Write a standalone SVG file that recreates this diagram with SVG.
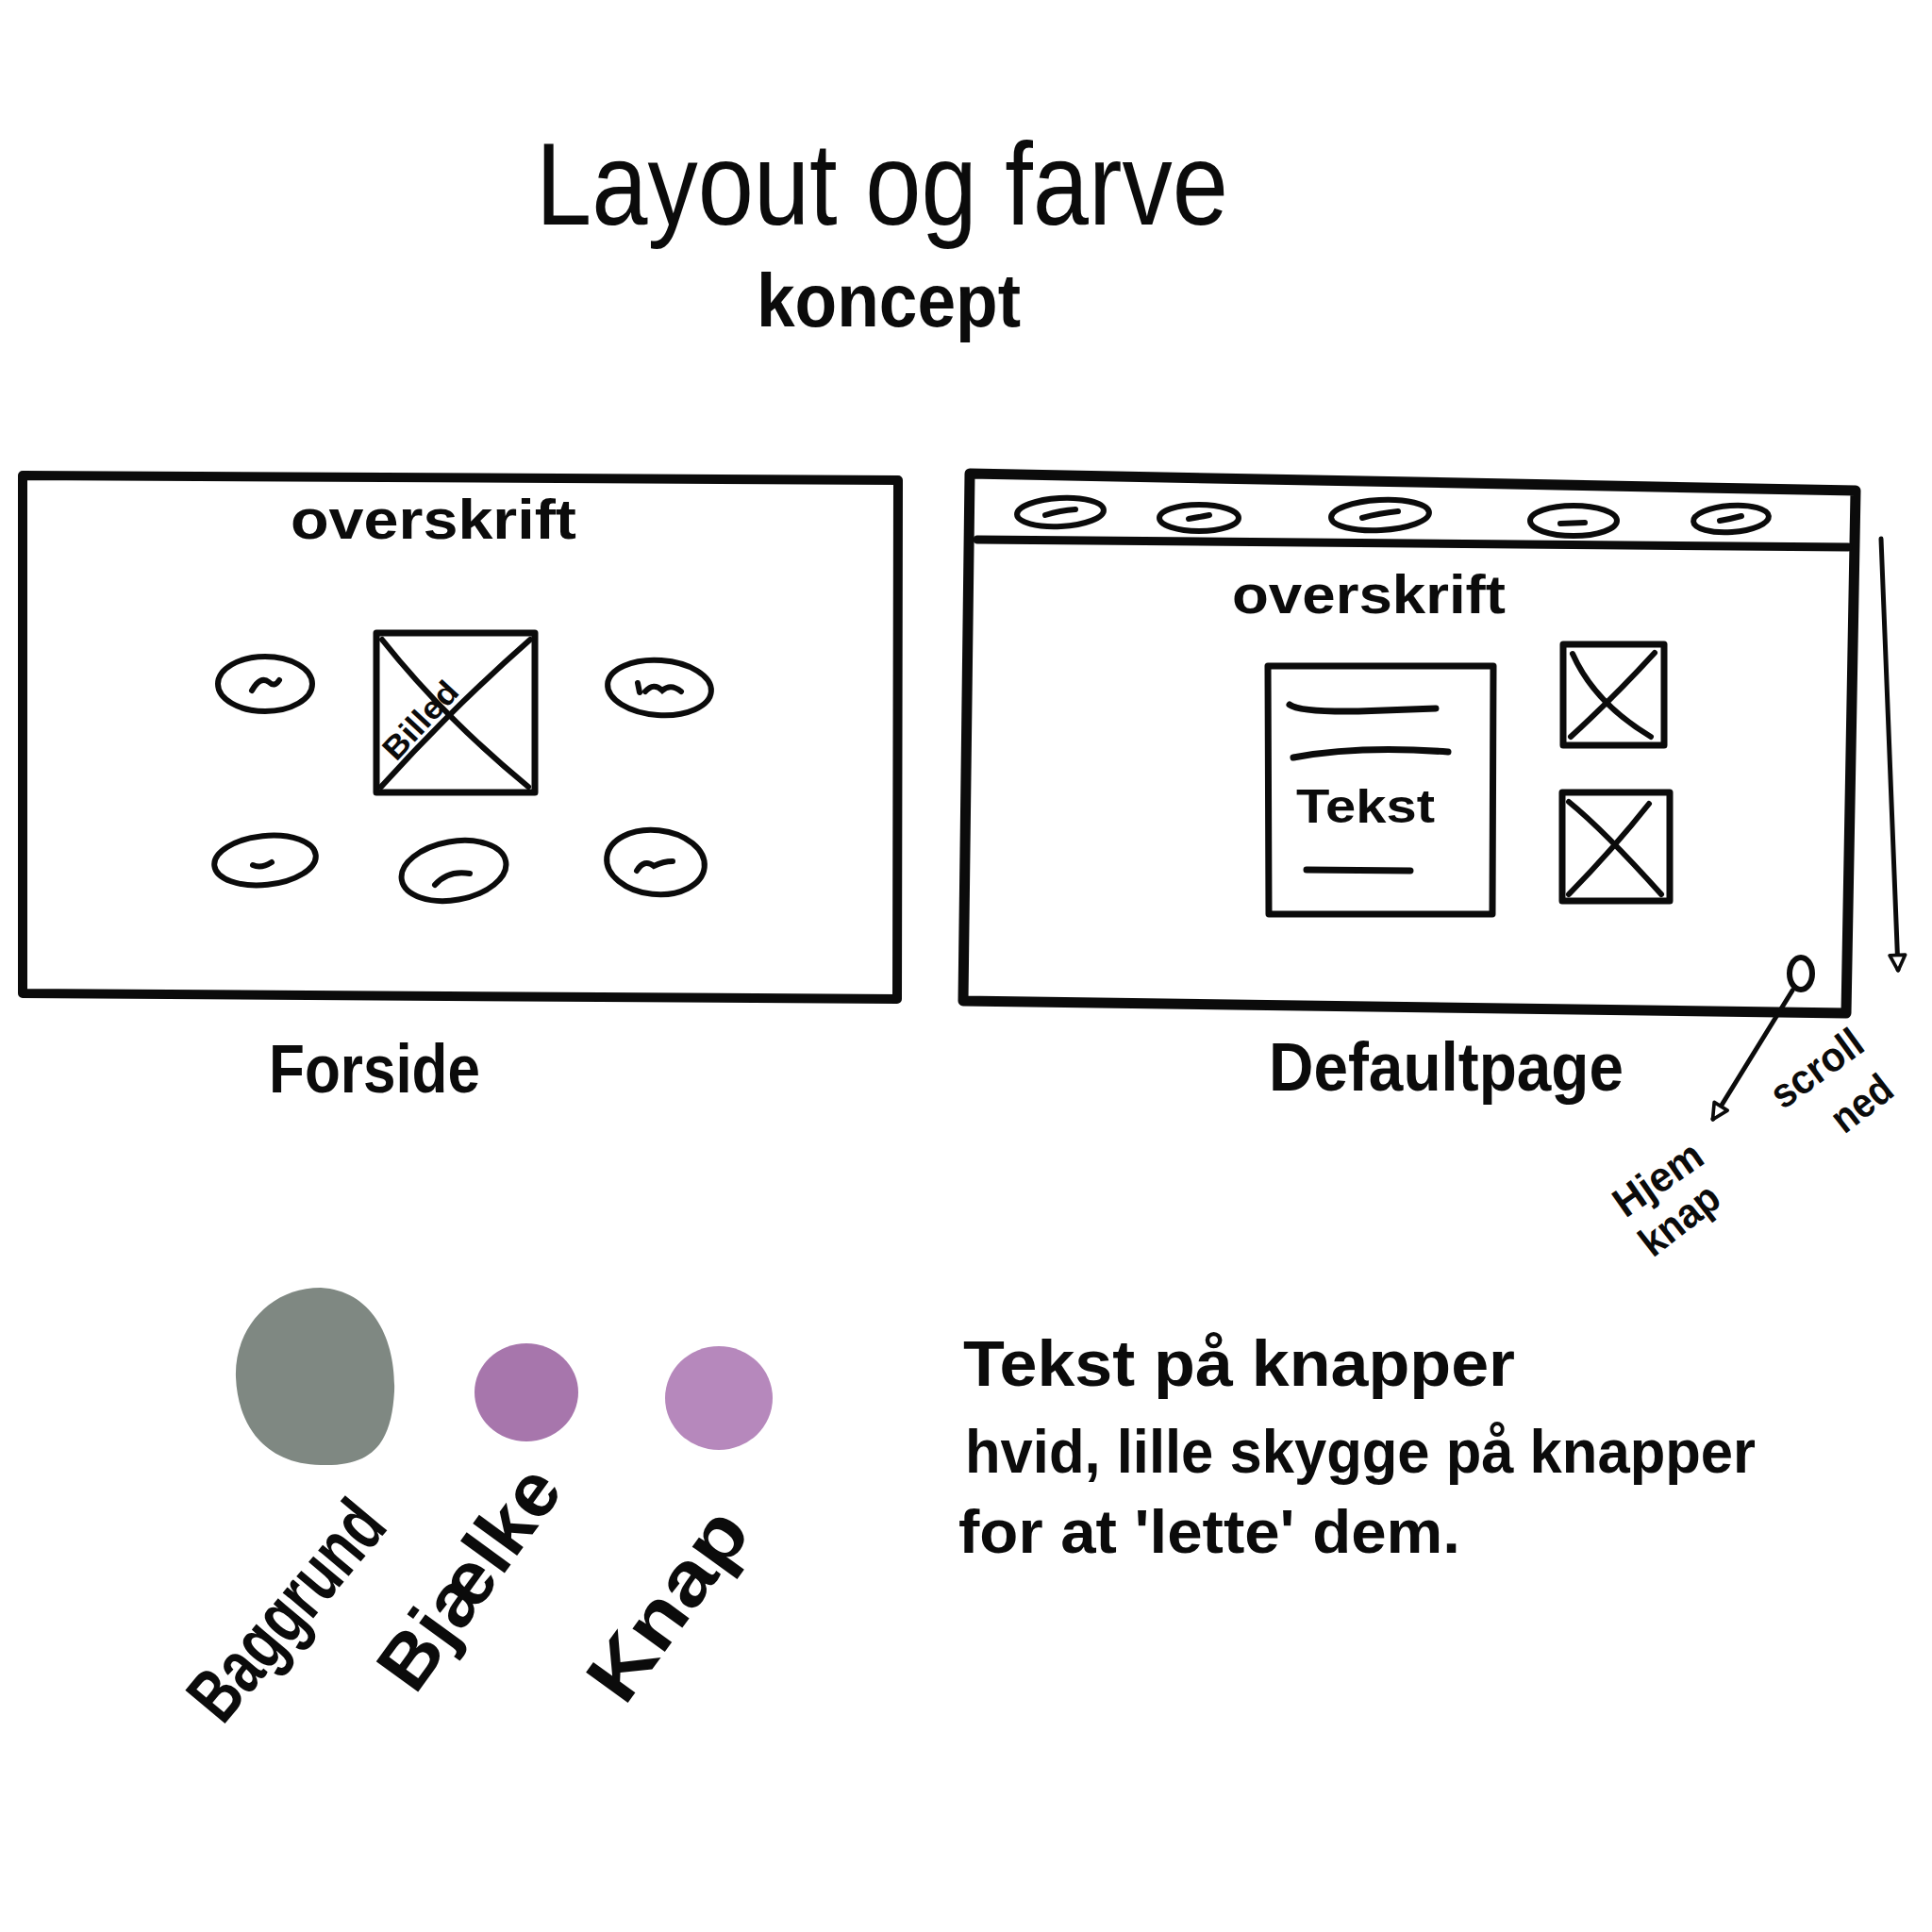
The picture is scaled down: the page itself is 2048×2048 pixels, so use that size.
<svg xmlns="http://www.w3.org/2000/svg" width="2048" height="2048" viewBox="0 0 2048 2048">
  <style>
    .ink { fill: none; stroke: #0b0b0b; stroke-linecap: round; stroke-linejoin: round; }
    .frame { stroke-width: 10; }
    .box { stroke-width: 7; }
    .pill { stroke-width: 6; fill: none; stroke: #0b0b0b; }
    .doodle { fill: none; stroke: #0b0b0b; stroke-width: 6; stroke-linecap: round; }
    .hand { font-family: "Liberation Sans", "DejaVu Sans", sans-serif; font-weight: bold; fill: #0b0b0b; }
    .thin { font-weight: normal; }
  </style>
  <defs>
    <marker id="openTri" viewBox="0 0 12 12" refX="10" refY="6" markerWidth="22" markerHeight="22" markerUnits="userSpaceOnUse" orient="auto">
      <path d="M1.5,1.5 L10.5,6 L1.5,10.5 Z" fill="#ffffff" stroke="#0b0b0b" stroke-width="2" stroke-linejoin="round"/>
    </marker>
  </defs>

  <rect width="2048" height="2048" fill="#ffffff"/>

  <!-- heading -->
  <g id="title">
    <text class="hand thin" x="568" y="238" font-size="125" textLength="734" lengthAdjust="spacingAndGlyphs">Layout og farve</text>
    <text class="hand" x="802" y="346" font-size="80" textLength="280" lengthAdjust="spacingAndGlyphs">koncept</text>
  </g>

  <!-- front page wireframe -->
  <g id="forside">
    <path class="ink frame" stroke="#2c2231" d="M24,504 L952,509 L951,1059 L24,1053 Z"/>
    <text class="hand" x="308" y="571" font-size="60" textLength="303" lengthAdjust="spacingAndGlyphs">overskrift</text>

    <g id="forside-billede">
      <path class="ink" stroke-width="7" d="M399,671 L567,671 L567,840 L399,840 Z"/>
      <path class="ink" stroke-width="6" d="M405,678 Q470,760 560,834"/>
      <path class="ink" stroke-width="6" d="M404,834 Q480,750 562,678"/>
      <text class="hand" x="0" y="0" font-size="34" textLength="100" lengthAdjust="spacingAndGlyphs" transform="translate(420,808) rotate(-47)">Billed</text>
    </g>

    <g id="forside-knap-1">
      <ellipse class="pill" cx="281" cy="725" rx="50" ry="29"/>
      <path class="doodle" d="M267,732 Q276,716 285,723 Q291,729 296,721"/>
    </g>
    <g id="forside-knap-2">
      <ellipse class="pill" cx="699" cy="729" rx="55" ry="29" transform="rotate(4 699 729)"/>
      <path class="doodle" d="M676,724 L678,734 M684,733 Q693,723 702,732 Q711,724 722,733"/>
    </g>
    <g id="forside-knap-3">
      <ellipse class="pill" cx="281" cy="912" rx="54" ry="26" transform="rotate(-6 281 912)"/>
      <path class="doodle" d="M268,917 Q277,921 288,914"/>
    </g>
    <g id="forside-knap-4">
      <ellipse class="pill" cx="481" cy="923" rx="56" ry="31" transform="rotate(-10 481 923)"/>
      <path class="doodle" d="M461,938 Q475,922 498,926"/>
    </g>
    <g id="forside-knap-5">
      <ellipse class="pill" cx="695" cy="914" rx="52" ry="34" transform="rotate(6 695 914)"/>
      <path class="doodle" d="M675,923 Q683,910 693,918 Q703,913 713,913"/>
    </g>

    <text class="hand" x="285" y="1158" font-size="72" textLength="224" lengthAdjust="spacingAndGlyphs">Forside</text>
  </g>

  <!-- detail page wireframe -->
  <g id="defaultpage">
    <path class="ink" stroke-width="11" d="M1028,502 L1967,520 L1957,1074 L1021,1061 Z"/>
    <path class="ink" stroke-width="9" d="M1036,572 L1959,580"/>

    <g id="nav-knap-1">
      <ellipse class="pill" cx="1124" cy="543" rx="46" ry="15" transform="rotate(-3 1124 543)"/>
      <path class="doodle" d="M1108,546 Q1124,541 1140,540"/>
    </g>
    <g id="nav-knap-2">
      <ellipse class="pill" cx="1271" cy="549" rx="42" ry="14"/>
      <path class="doodle" d="M1260,550 Q1272,548 1282,546"/>
    </g>
    <g id="nav-knap-3">
      <ellipse class="pill" cx="1463" cy="546" rx="52" ry="16" transform="rotate(-3 1463 546)"/>
      <path class="doodle" d="M1444,549 Q1462,544 1482,542"/>
    </g>
    <g id="nav-knap-4">
      <ellipse class="pill" cx="1668" cy="552" rx="46" ry="16"/>
      <path class="doodle" d="M1654,555 L1680,554"/>
    </g>
    <g id="nav-knap-5">
      <ellipse class="pill" cx="1835" cy="550" rx="40" ry="14" transform="rotate(-4 1835 550)"/>
      <path class="doodle" d="M1823,552 Q1835,550 1846,547"/>
    </g>

    <text class="hand" x="1306" y="650" font-size="58" textLength="290" lengthAdjust="spacingAndGlyphs">overskrift</text>

    <g id="tekst-boks">
      <path class="ink box" d="M1344,706 L1583,706 L1582,969 L1345,969 Z"/>
      <path class="ink" stroke-width="7" d="M1367,747 Q1378,755 1440,754 L1522,751"/>
      <path class="ink" stroke-width="7" d="M1371,803 Q1440,790 1535,797"/>
      <text class="hand" x="1374" y="872" font-size="50" textLength="147" lengthAdjust="spacingAndGlyphs">Tekst</text>
      <path class="ink" stroke-width="7" d="M1385,922 L1495,923"/>
    </g>

    <g id="billede-1">
      <path class="ink box" d="M1657,683 L1764,683 L1764,790 L1657,790 Z"/>
      <path class="ink" stroke-width="6" d="M1667,693 Q1690,745 1750,781"/>
      <path class="ink" stroke-width="6" d="M1665,781 Q1710,740 1754,692"/>
    </g>
    <g id="billede-2">
      <path class="ink box" d="M1656,840 L1770,840 L1770,955 L1656,955 Z"/>
      <path class="ink" stroke-width="6" d="M1663,850 Q1700,880 1761,948"/>
      <path class="ink" stroke-width="6" d="M1663,948 Q1710,900 1748,852"/>
    </g>

    <g id="hjem-knap">
      <ellipse class="pill" cx="1909" cy="1032" rx="12" ry="17"/>
    </g>

    <text class="hand" x="1345" y="1156" font-size="72" textLength="376" lengthAdjust="spacingAndGlyphs">Defaultpage</text>
  </g>

  <!-- annotation labels -->
  <g id="label-hjem-knap">
    <text class="hand" x="0" y="0" font-size="44" textLength="105" lengthAdjust="spacingAndGlyphs" transform="translate(1723,1292) rotate(-35)">Hjem</text>
    <text class="hand" x="0" y="0" font-size="44" textLength="95" lengthAdjust="spacingAndGlyphs" transform="translate(1752,1334) rotate(-38)">knap</text>
  </g>
  <g id="label-scroll-ned">
    <text class="hand" x="0" y="0" font-size="44" textLength="110" lengthAdjust="spacingAndGlyphs" transform="translate(1890,1177) rotate(-36)">scroll</text>
    <text class="hand" x="0" y="0" font-size="44" textLength="70" lengthAdjust="spacingAndGlyphs" transform="translate(1955,1203) rotate(-38)">ned</text>
  </g>

  <!-- connectors -->
  <g id="connectors">
    <path class="ink" stroke-width="5" d="M1900,1050 L1816,1186" marker-end="url(#openTri)"/>
    <path class="ink" stroke-width="5" d="M1994,571 L2012,1028" marker-end="url(#openTri)"/>
  </g>

  <!-- colour swatches -->
  <g id="palette-baggrund">
    <path d="M340,1365 C395,1368 420,1420 418,1475 C415,1530 395,1555 340,1553 C280,1552 252,1510 250,1460 C248,1410 285,1365 340,1365 Z" fill="#7f8882"/>
    <text class="hand" x="0" y="0" font-size="80" textLength="275" lengthAdjust="spacingAndGlyphs" transform="translate(236,1830) rotate(-50)">Baggrund</text>
  </g>
  <g id="palette-bjaelke">
    <ellipse cx="558" cy="1476" rx="55" ry="52" fill="#a776ac"/>
    <text class="hand" x="0" y="0" font-size="80" textLength="270" lengthAdjust="spacingAndGlyphs" transform="translate(440,1798) rotate(-54)">Bjælke</text>
  </g>
  <g id="palette-knap">
    <ellipse cx="762" cy="1482" rx="57" ry="55" fill="#b688bc"/>
    <text class="hand" x="0" y="0" font-size="80" textLength="230" lengthAdjust="spacingAndGlyphs" transform="translate(662,1810) rotate(-54)">Knap</text>
  </g>

  <!-- notes -->
  <g id="noter">
    <text class="hand" x="1021" y="1469" font-size="68" textLength="585" lengthAdjust="spacingAndGlyphs">Tekst på knapper</text>
    <text class="hand" x="1023" y="1561" font-size="64" textLength="838" lengthAdjust="spacingAndGlyphs">hvid, lille skygge på knapper</text>
    <text class="hand" x="1016" y="1646" font-size="64" textLength="532" lengthAdjust="spacingAndGlyphs">for at 'lette' dem.</text>
  </g>
</svg>
